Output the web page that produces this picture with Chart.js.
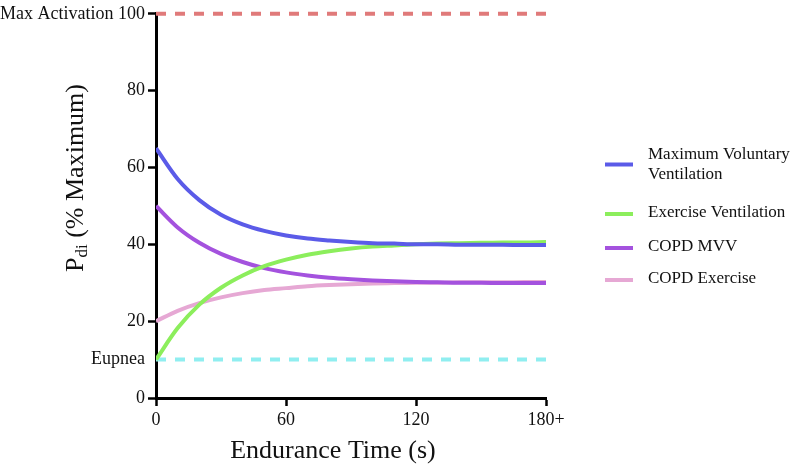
<!DOCTYPE html>
<html>
<head>
<meta charset="utf-8">
<script src="https://cdn.jsdelivr.net/npm/chart.js@4/dist/chart.umd.min.js"></script>
<style>
html,body{margin:0;padding:0;background:#fff;}
#wrap{width:800px;height:467px;position:relative;}
</style>
</head>
<body>
<div id="wrap"><canvas id="c" width="800" height="467"></canvas></div>
<script>
// ---- data ----
const times = [0,10,20,30,40,50,60,70,80,90,100,110,120,130,140,150,160,170,180];
const mvv        = [65.0,57.0,51.5,47.7,45.2,43.5,42.3,41.5,41.0,40.6,40.3,40.2,40.0,40.0,39.9,39.9,39.9,39.8,39.8];
const exerciseV  = [10.0,18.2,24.3,28.7,31.9,34.3,36.0,37.3,38.2,38.9,39.4,39.7,40.0,40.2,40.3,40.4,40.5,40.5,40.6];
const copdMvv    = [50.0,44.4,40.4,37.5,35.4,33.8,32.7,31.9,31.3,30.9,30.6,30.4,30.2,30.1,30.0,30.0,29.9,29.9,29.9];
const copdEx     = [20.0,22.7,24.7,26.2,27.3,28.1,28.6,29.1,29.4,29.6,29.8,29.9,30.0,30.0,30.1,30.1,30.1,30.2,30.2];
const seriesNames = [["Maximum Voluntary","Ventilation"],["Exercise Ventilation"],["COPD MVV"],["COPD Exercise"]];
const maxActivation = 100;
const eupnea = 10;
const xTickValues = [0,60,120,180];
const xTickLabels = ["0","60","120","180+"];
const yTickValues = [0,10,20,40,60,80,100];
const yTickLabels = ["0","Eupnea","20","40","60","80","Max Activation 100"];
const xTitle = "Endurance Time (s)";
const yTitleMain = "P";
const yTitleSub = "di";
const yTitleRest = " (% Maximum)";

// ---- styles ----
const colors = ["#5b5be8","#8cee5c","#a452de","#e6a8d4"];
const FONT = "'Liberation Serif', 'Times New Roman', serif";

const pts = arr => arr.map((v,i)=>({x:times[i], y:v}));
const lineDs = (label, arr, color) => ({
  label, data: pts(arr), borderColor: color, backgroundColor: color,
  borderWidth: 4, pointRadius: 0, cubicInterpolationMode: 'monotone', fill: false
});
const refDs = (val, color) => ({
  label: '', data: [{x:times[0], y:val},{x:times[times.length-1], y:val}],
  borderColor: color, borderWidth: 4, borderDash: [10,9], pointRadius: 0, fill:false, clip: false
});

const customDraw = {
  id: 'customDraw',
  afterDraw(chart) {
    const ctx = chart.ctx;
    ctx.save();
    // legend
    const legendY = [[155,175],[213],[247],[279]];
    const lineY = [164.5,214,248,280];
    ctx.font = "17px " + FONT;
    ctx.fillStyle = "#111";
    ctx.textBaseline = "middle";
    ctx.textAlign = "left";
    for (let i=0;i<4;i++){
      ctx.strokeStyle = chart.data.datasets[i].borderColor;
      ctx.lineWidth = 4;
      ctx.beginPath();
      ctx.moveTo(605, lineY[i]); ctx.lineTo(633, lineY[i]); ctx.stroke();
      seriesNames[i].forEach((t,j)=>{ ctx.fillText(t, 648, legendY[i][j]); });
    }
    // x title
    ctx.font = "26px " + FONT;
    ctx.textAlign = "center";
    ctx.textBaseline = "middle";
    ctx.fillText(xTitle, 333, 451);
    // y title (rotated)
    ctx.translate(76, 178);
    ctx.rotate(-Math.PI/2);
    ctx.textBaseline = "middle";
    ctx.textAlign = "left";
    ctx.font = "26px " + FONT;
    const wP = ctx.measureText(yTitleMain).width;
    ctx.font = "17px " + FONT;
    const wS = ctx.measureText(yTitleSub).width;
    ctx.font = "26px " + FONT;
    const wR = ctx.measureText(yTitleRest).width;
    let x0 = -(wP+wS+wR)/2;
    ctx.fillText(yTitleMain, x0, 0);
    ctx.font = "17px " + FONT;
    ctx.fillText(yTitleSub, x0+wP, 7);
    ctx.font = "26px " + FONT;
    ctx.fillText(yTitleRest, x0+wP+wS, 0);
    ctx.restore();
  }
};

new Chart(document.getElementById('c'), {
  type: 'line',
  data: {
    datasets: [
      lineDs(seriesNames[0].join(' '), mvv, colors[0]),
      lineDs(seriesNames[1].join(' '), exerciseV, colors[1]),
      lineDs(seriesNames[2].join(' '), copdMvv, colors[2]),
      lineDs(seriesNames[3].join(' '), copdEx, colors[3]),
      refDs(maxActivation, "#e07a7a"),
      refDs(eupnea, "#90eef0")
    ]
  },
  options: {
    responsive: false,
    animation: false,
    layout: { padding: { left: 0, right: 254, top: 10, bottom: 0 } },
    plugins: { legend: { display: false }, tooltip: { enabled: false }, title: {display:false} },
    scales: {
      x: {
        type: 'linear', min: 0, max: 180,
        afterBuildTicks: s => { s.ticks = xTickValues.map(v=>({value:v})); },
        afterFit: s => { s.height = 69; },
        ticks: {
          callback: (v) => xTickLabels[xTickValues.indexOf(v)],
          font: { family: FONT, size: 18 }, color: '#111', padding: 3, maxRotation: 0, autoSkip: false
        },
        grid: { drawOnChartArea: false, drawTicks: true, tickLength: 8, tickWidth: 2.5, tickColor: '#000' },
        border: { display: true, color: '#000', width: 3 }
      },
      y: {
        type: 'linear', min: 0, max: 100,
        afterBuildTicks: s => { s.ticks = yTickValues.map(v=>({value:v})); },
        afterFit: s => { s.width = 156; },
        ticks: {
          callback: (v) => yTickLabels[yTickValues.indexOf(v)],
          font: { family: FONT, size: 18 }, color: '#111', padding: 3, autoSkip: false
        },
        grid: { drawOnChartArea: false, drawTicks: true, tickLength: 8, tickWidth: 2.5,
          tickColor: (c) => (c.tick && c.tick.value === eupnea) ? 'rgba(0,0,0,0)' : '#000' },
        border: { display: true, color: '#000', width: 3 }
      }
    }
  },
  plugins: [customDraw]
});
</script>
</body>
</html>
